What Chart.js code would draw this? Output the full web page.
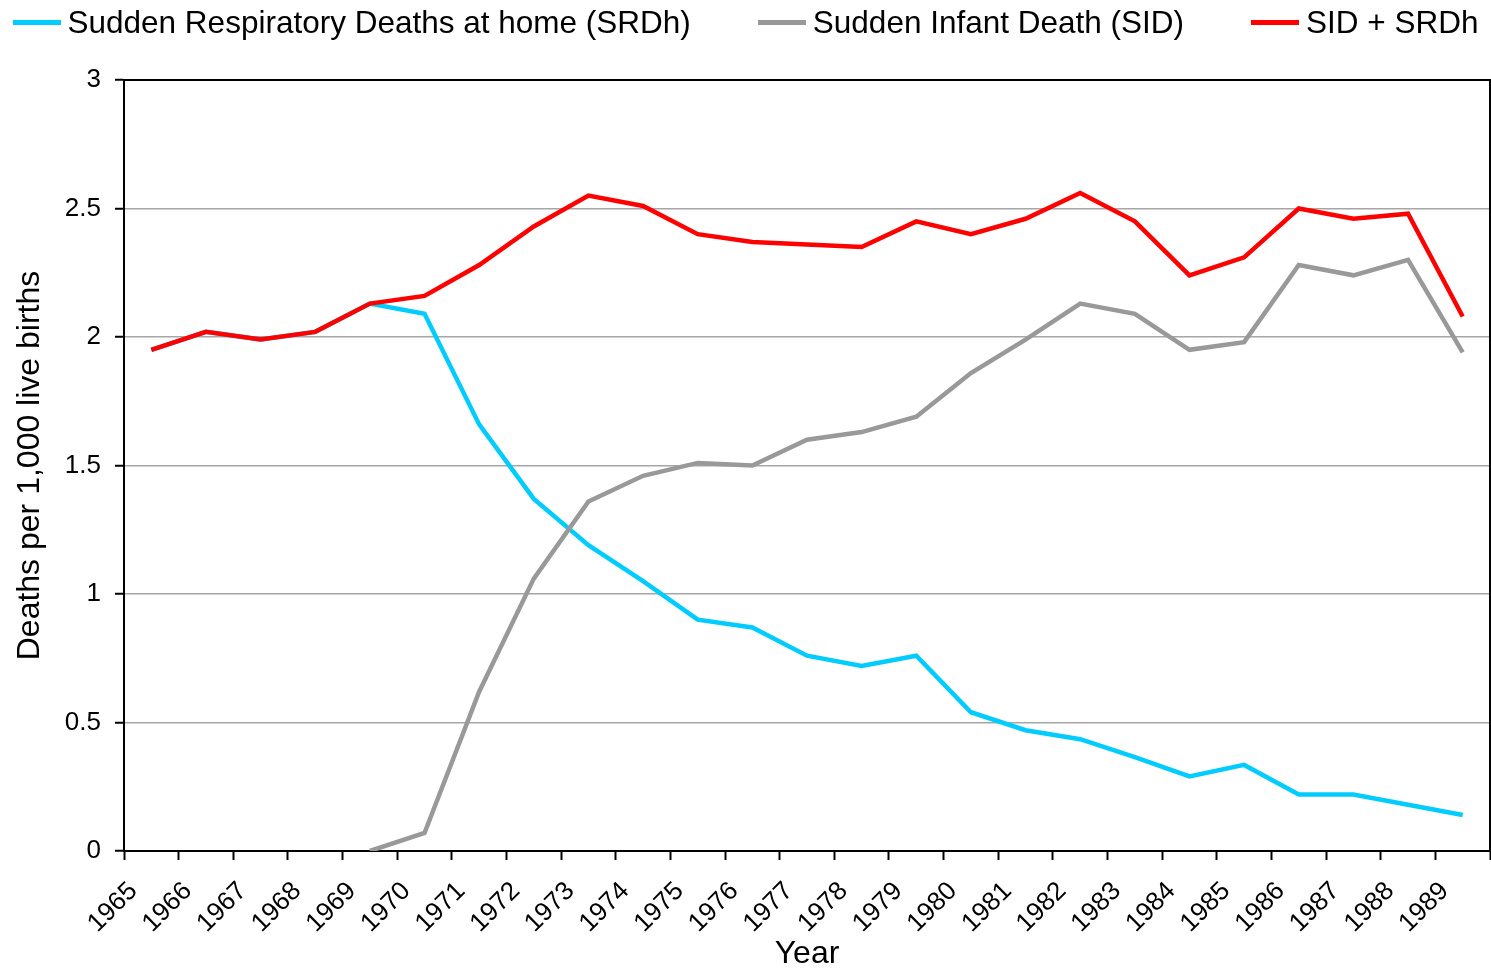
<!DOCTYPE html>
<html>
<head>
<meta charset="utf-8">
<script src="https://cdn.jsdelivr.net/npm/chart.js@4/dist/chart.umd.min.js"></script>
<style>
  html, body { margin: 0; padding: 0; background: #fff; }
  #wrap { position: relative; width: 1491px; height: 968px; }
  #legend {
    position: absolute; top: 0; left: 0; width: 1491px; height: 44px;
    display: flex; justify-content: center; align-items: center; gap: 67px;
    font-family: "Liberation Sans", Arial, sans-serif; font-size: 31.5px; color: #000;
  }
  #legend .item { display: flex; align-items: center; white-space: nowrap; }
  #legend .swatch { width: 48px; height: 5px; margin-right: 7px; }
</style>
</head>
<body>
<div id="wrap">
  <div id="legend"></div>
  <canvas id="deathsChart" width="1491" height="968"></canvas>
</div>
<script>
const years = ['1965','1966','1967','1968','1969','1970','1971','1972','1973','1974','1975','1976','1977',
  '1978','1979','1980','1981','1982','1983','1984','1985','1986','1987','1988','1989'];

// Sudden Respiratory Deaths at home (SRDh)
const srdh = [1.95, 2.02, 1.99, 2.02, 2.13, 2.09, 1.66, 1.37, 1.19, 1.05, 0.90, 0.87, 0.76,
  0.72, 0.76, 0.54, 0.47, 0.435, 0.365, 0.29, 0.335, 0.22, 0.22, 0.18, 0.14];

// Sudden Infant Death (SID)
const sid = [null, null, null, null, 0, 0.07, 0.62, 1.06, 1.36, 1.46, 1.51, 1.50, 1.60,
  1.63, 1.69, 1.86, 1.99, 2.13, 2.09, 1.95, 1.98, 2.28, 2.24, 2.30, 1.94];

// SID + SRDh
const total = [1.95, 2.02, 1.99, 2.02, 2.13, 2.16, 2.28, 2.43, 2.55, 2.51, 2.40, 2.37, 2.36,
  2.35, 2.45, 2.40, 2.46, 2.56, 2.45, 2.24, 2.31, 2.50, 2.46, 2.48, 2.08];

const yTicks = [0, 0.5, 1, 1.5, 2, 2.5, 3];

const series = [
  { label: 'Sudden Respiratory Deaths at home (SRDh)', data: srdh, color: '#00ccff', order: 2 },
  { label: 'Sudden Infant Death (SID)', data: sid, color: '#999999', order: 1 },
  { label: 'SID + SRDh', data: total, color: '#ff0000', order: 0 }
];

// html legend, line swatch + label
const legendEl = document.getElementById('legend');
series.forEach(s => {
  const item = document.createElement('div');
  item.className = 'item';
  item.innerHTML = '<span class="swatch" style="background:' + s.color + '"></span><span>' + s.label + '</span>';
  legendEl.appendChild(item);
});

// black frame round the plot area
const frame = {
  id: 'frame',
  beforeDatasetsDraw(chart) {
    const { ctx, chartArea: a } = chart;
    ctx.save();
    ctx.strokeStyle = '#000';
    ctx.lineWidth = 2;
    ctx.beginPath();
    ctx.moveTo(a.left, a.top);
    ctx.lineTo(a.right, a.top);
    ctx.lineTo(a.right, a.bottom);
    ctx.stroke();
    ctx.restore();
  }
};

const font = 'Liberation Sans, Arial, sans-serif';

new Chart(document.getElementById('deathsChart'), {
  type: 'line',
  data: {
    labels: years,
    datasets: series.map(s => ({
      label: s.label,
      data: s.data,
      borderColor: s.color,
      backgroundColor: s.color,
      borderWidth: 4.5,
      pointRadius: 0,
      tension: 0,
      spanGaps: false,
      order: s.order
    }))
  },
  options: {
    responsive: false,
    animation: false,
    layout: { padding: { top: 80, right: 1, left: 0, bottom: 0 } },
    plugins: { legend: { display: false }, tooltip: { enabled: false } },
    scales: {
      x: {
        type: 'category',
        offset: true,
        grid: { offset: true, drawOnChartArea: false, tickLength: 9, tickColor: '#000', tickWidth: 2 },
        border: { color: '#000', width: 2 },
        ticks: {
          autoSkip: false, minRotation: 45, maxRotation: 45, padding: 16, labelOffset: -18,
          color: '#000', font: { family: font, size: 26 }
        },
        title: { display: true, text: 'Year', color: '#000', font: { family: font, size: 32, lineHeight: 0.85 }, padding: { top: 0, bottom: 0 } },
        afterFit(scale) {
          scale.height = 117;
          scale.paddingLeft = 0;
          scale.paddingRight = 0;
        }
      },
      y: {
        min: 0, max: 3,
        afterBuildTicks(scale) { scale.ticks = yTicks.map(v => ({ value: v })); },
        grid: { color: '#a6a6a6', lineWidth: 1.5, tickLength: 9, tickColor: '#000', tickWidth: 2 },
        border: { color: '#000', width: 2 },
        ticks: {
          padding: 14, color: '#000', font: { family: font, size: 26 },
          callback: v => String(v)
        },
        title: { display: true, text: 'Deaths per 1,000 live births', color: '#000', font: { family: font, size: 32, lineHeight: 1.2 }, padding: { top: 11, bottom: 0 } },
        afterFit(scale) { scale.width = 124; }
      }
    }
  },
  plugins: [frame]
});
</script>
</body>
</html>
